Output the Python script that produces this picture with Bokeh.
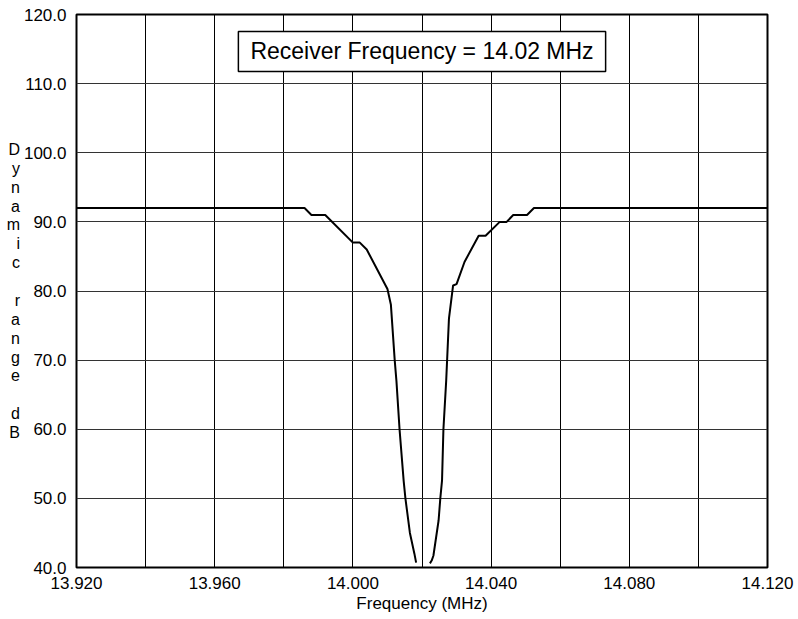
from bokeh.plotting import figure
from bokeh.models import Label, FixedTicker, PrintfTickFormatter, Range1d
from bokeh.embed import file_html
from bokeh.resources import INLINE

# ---- data ----
left_freq = [13.920, 13.986, 13.988, 13.992, 14.000, 14.002, 14.004, 14.010, 14.011,
             14.0121, 14.0126, 14.0135, 14.0147, 14.0152, 14.0165, 14.0178, 14.0183]
left_db = [92, 92, 91, 91, 87, 87, 86, 80.3, 78,
           70, 67, 60, 52.5, 50, 45, 42, 40.7]

right_freq = [14.0223, 14.0228, 14.0233, 14.0248, 14.0253, 14.0258, 14.0262, 14.0270,
              14.0278, 14.0290, 14.0300, 14.0323, 14.0364, 14.0384, 14.0425, 14.0445,
              14.0464, 14.0504, 14.0524, 14.120]
right_db = [40.6, 41.0, 41.7, 46.8, 50, 52.6, 60, 67,
            76, 80.8, 81, 84.2, 88, 88, 90, 90,
            91, 91, 92, 92]

x_label_ticks = [13.92, 13.96, 14.00, 14.04, 14.08, 14.12]
x_grid_ticks = [13.92, 13.94, 13.96, 13.98, 14.00, 14.02, 14.04, 14.06, 14.08, 14.10, 14.12]
y_ticks = [40, 50, 60, 70, 80, 90, 100, 110, 120]

receiver_freq = 14.02
box_text = "Receiver Frequency = 14.02 MHz"
y_axis_text = "D\ny\nn\na\nm\ni\nc\n\nr\na\nn\ng\ne\n\nd\nB"
x_axis_text = "Frequency (MHz)"

FONT = "Liberation Sans"

p = figure(frame_width=691, frame_height=553, output_backend="svg", toolbar_location=None,
           x_range=Range1d(13.92, 14.12), y_range=Range1d(40, 120),
           min_border_left=76, min_border_top=14, min_border_right=28, min_border_bottom=40)
p.background_fill_color = "white"
p.border_fill_color = "white"
p.outline_line_color = "black"
p.outline_line_width = 2

# axes
p.xaxis.ticker = FixedTicker(ticks=x_label_ticks)
p.xaxis.formatter = PrintfTickFormatter(format="%.3f")
p.yaxis.ticker = FixedTicker(ticks=y_ticks)
p.yaxis.formatter = PrintfTickFormatter(format="%.1f")
for ax in (p.xaxis[0], p.yaxis[0]):
    ax.axis_line_color = None
    ax.major_tick_line_color = None
    ax.minor_tick_line_color = None
    ax.major_label_text_font = FONT
    ax.major_label_text_font_size = "17px"
    ax.major_label_text_color = "black"
    ax.axis_label_text_font = FONT
    ax.axis_label_text_font_size = "17px"
    ax.axis_label_text_font_style = "normal"
    ax.axis_label_text_color = "black"
p.xaxis.major_label_standoff = 3
p.yaxis.major_label_standoff = 4
p.xaxis.axis_label = x_axis_text
p.xaxis.axis_label_standoff = 2

p.yaxis.axis_label = y_axis_text
p.yaxis.axis_label_orientation = "horizontal"
p.yaxis.axis_label_text_font_size = "16px"
p.yaxis.axis_label_text_line_height = 1.11
p.yaxis.axis_label_standoff = 1

# grids
p.xgrid.ticker = FixedTicker(ticks=x_grid_ticks)
p.ygrid.ticker = FixedTicker(ticks=y_ticks)
p.xgrid.grid_line_color = "black"
p.ygrid.grid_line_color = "#333333"
p.xgrid.grid_line_width = 1
p.ygrid.grid_line_width = 1

# curve
p.line(left_freq, left_db, line_color="black", line_width=2)
p.line(right_freq, right_db, line_color="black", line_width=2)

# box label
p.add_layout(Label(x=receiver_freq, y=114.65, text=box_text, text_align="center",
                   text_baseline="middle", text_font=FONT, text_font_size="23px",
                   text_color="black", background_fill_color="white",
                   border_line_color="black", border_line_width=1.5, padding=(12, 7)))

open("out.html", "w").write(file_html(p, INLINE))
